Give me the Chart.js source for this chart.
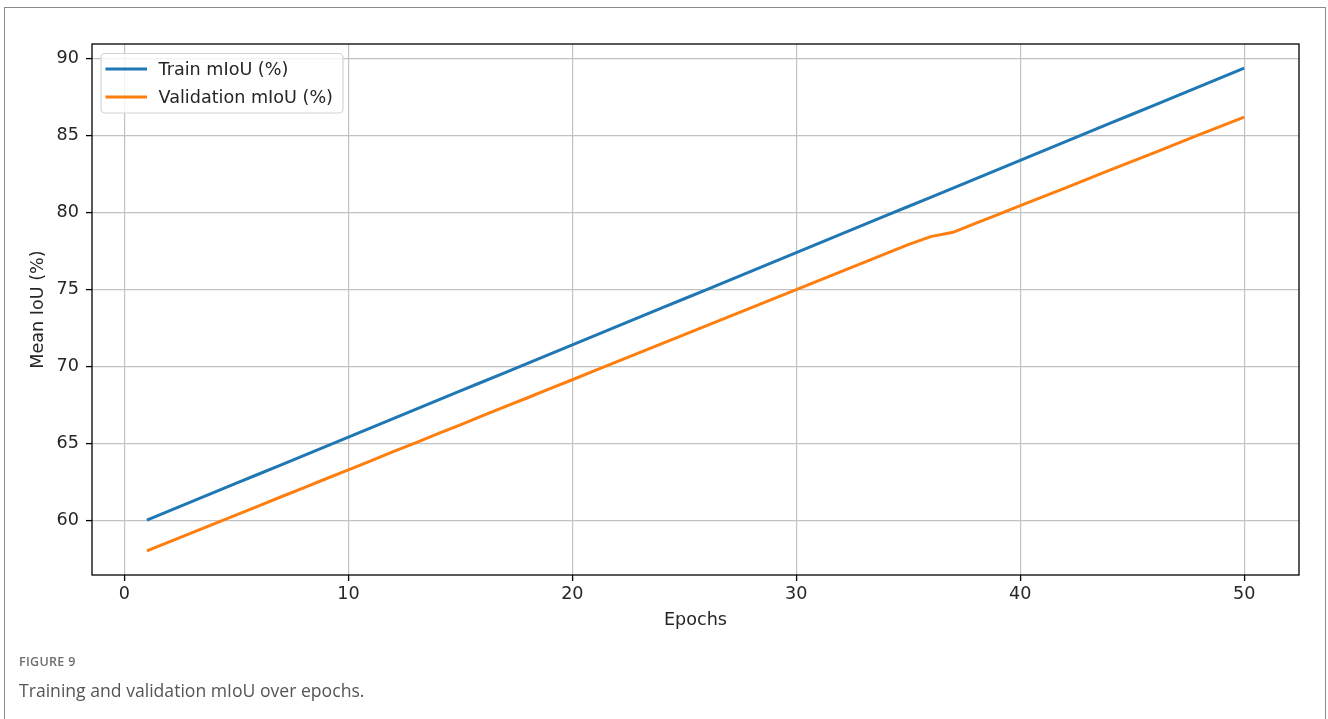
<!DOCTYPE html>
<html>
<head>
<meta charset="utf-8">
<title>Training and validation mIoU over epochs</title>
<script src="https://cdn.jsdelivr.net/npm/chart.js@4.4.1/dist/chart.umd.min.js"></script>
<style>
  html, body { margin: 0; padding: 0; background: #ffffff; }
  #wrap { position: relative; width: 1328px; height: 719px; overflow: hidden; }
  #frame { position: absolute; left: 4px; top: 7px; width: 1322px; height: 760px; border: 1.5px solid #8a8a8a; box-sizing: border-box; }
  #chart { position: absolute; left: 0; top: 0; }
  .fig-label { position: absolute; left: 19px; top: 653px; font: 600 12.5px "Open Sans", sans-serif; color: #6e6e6e; letter-spacing: 0.3px; }
  .fig-caption { position: absolute; left: 19px; top: 678px; font: 400 17.6px "Open Sans", sans-serif; color: #555555; }
</style>
</head>
<body>
<div id="wrap">
  <div id="frame"></div>
  <canvas id="chart" width="1328" height="719"></canvas>
  <div class="fig-label">FIGURE 9</div>
  <div class="fig-caption">Training and validation mIoU over epochs.</div>
</div>
<script>
// Epoch numbers and per-epoch mean IoU (%) for the two splits
const epochs = [1, 2, 3, 4, 5, 6, 7, 8, 9, 10,
                11, 12, 13, 14, 15, 16, 17, 18, 19, 20,
                21, 22, 23, 24, 25, 26, 27, 28, 29, 30,
                31, 32, 33, 34, 35, 36, 37, 38, 39, 40,
                41, 42, 43, 44, 45, 46, 47, 48, 49, 50];

const trainMiou = [60.0, 60.6, 61.2, 61.8, 62.4, 63.0, 63.6, 64.2, 64.8, 65.4,
                   66.0, 66.6, 67.2, 67.8, 68.4, 69.0, 69.6, 70.2, 70.8, 71.4,
                   72.0, 72.6, 73.2, 73.8, 74.4, 75.0, 75.6, 76.2, 76.8, 77.4,
                   78.0, 78.6, 79.2, 79.8, 80.4, 81.0, 81.6, 82.2, 82.8, 83.4,
                   84.0, 84.6, 85.2, 85.8, 86.4, 87.0, 87.6, 88.2, 88.8, 89.4];

const valMiou = [58.00, 58.59, 59.17, 59.76, 60.34, 60.93, 61.52, 62.10, 62.69, 63.27,
                 63.86, 64.45, 65.03, 65.62, 66.20, 66.79, 67.38, 67.96, 68.55, 69.13,
                 69.72, 70.31, 70.89, 71.48, 72.06, 72.65, 73.24, 73.82, 74.41, 74.99,
                 75.58, 76.17, 76.75, 77.34, 77.92, 78.44, 78.72, 79.30, 79.87, 80.45,
                 81.03, 81.60, 82.18, 82.76, 83.33, 83.91, 84.49, 85.07, 85.64, 86.22];

const seriesNames = ['Train mIoU (%)', 'Validation mIoU (%)'];
const xTicks = [0, 10, 20, 30, 40, 50];
const yTicks = [60, 65, 70, 75, 80, 85, 90];
const xTitle = 'Epochs';
const yTitle = 'Mean IoU (%)';

// 5% padding around the data extent on both axes
function paddedRange(values) {
  const lo = Math.min(...values), hi = Math.max(...values);
  const m = (hi - lo) * 0.05;
  return [lo - m, hi + m];
}
const [xMin, xMax] = paddedRange(epochs);
const [yMin, yMax] = paddedRange(trainMiou.concat(valMiou));

const FONT = '"DejaVu Sans", sans-serif';
const FSIZE = 17.6;
const TEXT = '#262626';

// Black frame round the plotting area
const framePlugin = {
  id: 'frame',
  afterDatasetsDraw(chart) {
    const { ctx, chartArea: a } = chart;
    ctx.save();
    ctx.strokeStyle = '#000000';
    ctx.lineWidth = 1.3;
    ctx.strokeRect(a.left, a.top, a.right - a.left, a.bottom - a.top);
    ctx.restore();
  }
};

// Boxed legend in the upper-left corner of the plotting area
const cornerLegend = {
  id: 'cornerLegend',
  afterDraw(chart) {
    const { ctx, chartArea: a } = chart;
    const sets = chart.data.datasets;
    ctx.save();
    ctx.font = FSIZE + 'px ' + FONT;
    const left = a.left + 9, top = a.top + 9.5;
    const handleX0 = left + 4.5, handleX1 = left + 46;
    const textX = left + 57.5;
    const rowGap = 28, firstRow = top + 15.5;
    let maxW = 0;
    sets.forEach(d => { maxW = Math.max(maxW, ctx.measureText(d.label).width); });
    const w = textX - left + maxW + 10;
    const h = 15.5 + rowGap * (sets.length - 1) + 16;
    ctx.beginPath();
    ctx.roundRect(left, top, w, h, 4);
    ctx.fillStyle = 'rgba(255,255,255,0.8)';
    ctx.fill();
    ctx.strokeStyle = '#d4d4d4';
    ctx.lineWidth = 1.2;
    ctx.stroke();
    sets.forEach((d, i) => {
      const y = firstRow + i * rowGap;
      ctx.beginPath();
      ctx.moveTo(handleX0, y);
      ctx.lineTo(handleX1, y);
      ctx.strokeStyle = d.borderColor;
      ctx.lineWidth = d.borderWidth;
      ctx.stroke();
      ctx.fillStyle = TEXT;
      ctx.textBaseline = 'middle';
      ctx.textAlign = 'left';
      ctx.fillText(d.label, textX, y + 1);
    });
    ctx.restore();
  }
};

const gridCommon = {
  color: '#c2c2c2',
  lineWidth: 1.2,
  drawTicks: true,
  tickLength: 6,
  tickColor: '#000000',
  tickWidth: 1.3
};

new Chart(document.getElementById('chart'), {
  type: 'line',
  data: {
    labels: epochs,
    datasets: [
      {
        label: seriesNames[0],
        data: epochs.map((e, i) => ({ x: e, y: trainMiou[i] })),
        borderColor: '#1f77b4',
        backgroundColor: '#1f77b4',
        borderWidth: 3,
        pointRadius: 0,
        tension: 0,
        fill: false
      },
      {
        label: seriesNames[1],
        data: epochs.map((e, i) => ({ x: e, y: valMiou[i] })),
        borderColor: '#ff7f0e',
        backgroundColor: '#ff7f0e',
        borderWidth: 3,
        pointRadius: 0,
        tension: 0,
        fill: false
      }
    ]
  },
  options: {
    responsive: false,
    animation: false,
    devicePixelRatio: 1,
    layout: { padding: { left: 0, top: 44, right: 29, bottom: 84 } },
    plugins: {
      legend: { display: false },
      tooltip: { enabled: false },
      title: { display: false }
    },
    scales: {
      x: {
        type: 'linear',
        min: xMin,
        max: xMax,
        afterBuildTicks: s => { s.ticks = xTicks.map(v => ({ value: v })); },
        afterFit: s => { s.height = 60; },
        grid: gridCommon,
        border: { display: false },
        ticks: {
          padding: 3,
          maxRotation: 0,
          autoSkip: false,
          color: TEXT,
          font: { family: FONT, size: FSIZE },
          callback: v => String(v)
        },
        title: {
          display: true,
          text: xTitle,
          color: TEXT,
          font: { family: FONT, size: FSIZE },
          padding: { top: 0, bottom: 4 }
        }
      },
      y: {
        type: 'linear',
        min: yMin,
        max: yMax,
        afterBuildTicks: s => { s.ticks = yTicks.map(v => ({ value: v })); },
        afterFit: s => { s.width = 92; },
        grid: gridCommon,
        border: { display: false },
        ticks: {
          padding: 7,
          autoSkip: false,
          color: TEXT,
          font: { family: FONT, size: FSIZE },
          callback: v => String(v)
        },
        title: {
          display: true,
          text: yTitle,
          color: TEXT,
          font: { family: FONT, size: FSIZE },
          padding: { top: 28, bottom: 0 }
        }
      }
    }
  },
  plugins: [framePlugin, cornerLegend]
});
</script>
</body>
</html>
